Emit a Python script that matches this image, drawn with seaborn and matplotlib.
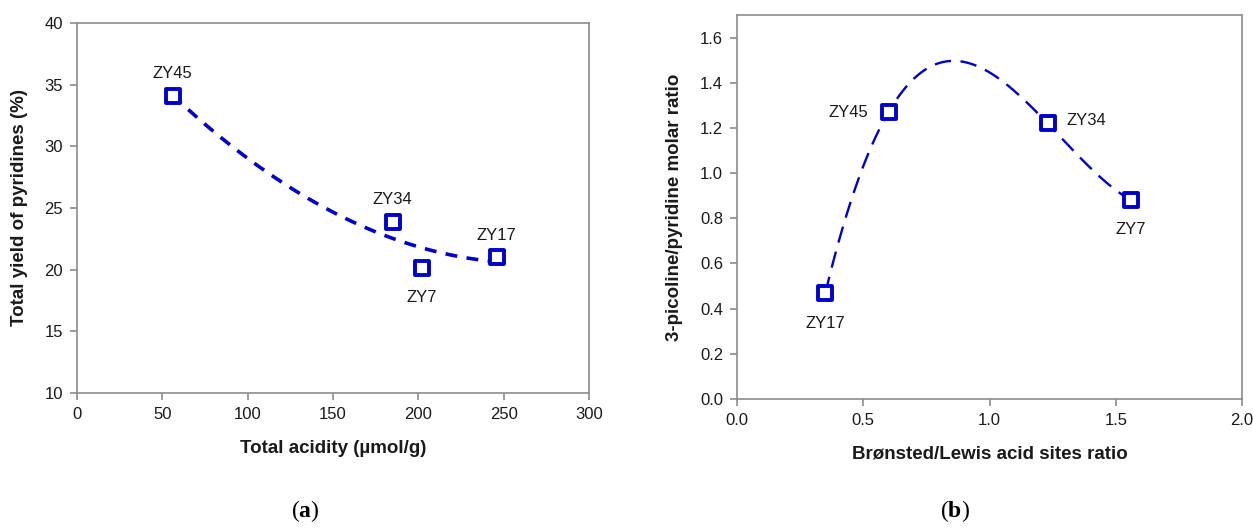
import numpy as np
import pandas as pd
import matplotlib
matplotlib.use("Agg")
import matplotlib.pyplot as plt
import seaborn as sns

# Panel (a): total acidity vs total yield of pyridines
samples_a = ["ZY45", "ZY34", "ZY7", "ZY17"]
acidity = [56, 185, 202, 246]
yield_pyr = [34.1, 23.9, 20.1, 21.0]

# Panel (b): Brønsted/Lewis ratio vs 3-picoline/pyridine ratio
samples_b = ["ZY17", "ZY45", "ZY34", "ZY7"]
bl_ratio = [0.35, 0.60, 1.23, 1.56]
pic_ratio = [0.47, 1.27, 1.22, 0.88]

sns.set_theme(style="white")
plt.rcParams["font.family"] = ["Liberation Sans", "DejaVu Sans"]
plt.rcParams["mathtext.fontset"] = "custom"
plt.rcParams["mathtext.bf"] = "Liberation Serif:bold"
plt.rcParams["mathtext.rm"] = "Liberation Serif"

BLUE = "#0000CC"
GREY = "#8c8c8c"
TXT = "#1a1a1a"

fig = plt.figure(figsize=(12.53, 5.29), dpi=100)
ax1 = fig.add_axes([77 / 1253, 1 - 393 / 529, (589 - 77) / 1253, (393 - 23) / 529])
ax2 = fig.add_axes([737 / 1253, 1 - 399 / 529, (1242 - 737) / 1253, (399 - 15) / 529])


def style_axes(ax):
    for s in ax.spines.values():
        s.set_color(GREY)
        s.set_linewidth(1.2)
    ax.tick_params(axis="both", which="major", direction="out", length=5,
                   width=1.2, color=GREY, labelsize=12, labelcolor=TXT,
                   bottom=True, left=True, pad=5)


# ----- panel (a) -----
df_a = pd.DataFrame({"x": acidity, "y": yield_pyr, "s": samples_a})
coef_a = np.polyfit(acidity, yield_pyr, 2)
xs_a = np.linspace(min(acidity), max(acidity), 200)
fit_a = pd.DataFrame({"x": xs_a, "y": np.polyval(coef_a, xs_a)})
sns.lineplot(data=fit_a, x="x", y="y", ax=ax1, color=BLUE, lw=2.6,
             linestyle=(0, (3.3, 2.6)), legend=False)
sns.scatterplot(data=df_a, x="x", y="y", ax=ax1, marker="s", s=110,
                facecolor="white", edgecolor=BLUE, linewidth=2.8, zorder=5,
                legend=False)
offs_a = {"ZY45": (0, 16), "ZY34": (0, 16), "ZY7": (0, -21), "ZY17": (0, 16)}
for s, x, y in zip(samples_a, acidity, yield_pyr):
    dx, dy = offs_a[s]
    ax1.annotate(s, (x, y), xytext=(dx, dy), textcoords="offset points",
                 ha="center", va="center", fontsize=12, color=TXT)
ax1.set_xlim(0, 300)
ax1.set_ylim(10, 40)
ax1.set_xticks([0, 50, 100, 150, 200, 250, 300])
ax1.set_yticks([10, 15, 20, 25, 30, 35, 40])
ax1.set_xlabel("Total acidity (µmol/g)", fontsize=13.5, fontweight="bold",
               labelpad=13, color=TXT)
ax1.set_ylabel("Total yield of pyridines (%)", fontsize=13.5,
               fontweight="bold", labelpad=12, color=TXT)
style_axes(ax1)

# ----- panel (b) -----
df_b = pd.DataFrame({"x": bl_ratio, "y": pic_ratio, "s": samples_b})
coef_b = np.polyfit(bl_ratio, pic_ratio, 3)
xs_b = np.linspace(min(bl_ratio), max(bl_ratio), 300)
fit_b = pd.DataFrame({"x": xs_b, "y": np.polyval(coef_b, xs_b)})
sns.lineplot(data=fit_b, x="x", y="y", ax=ax2, color=BLUE, lw=1.7,
             linestyle=(0, (7, 4)), legend=False)
sns.scatterplot(data=df_b, x="x", y="y", ax=ax2, marker="s", s=110,
                facecolor="white", edgecolor=BLUE, linewidth=2.8, zorder=5,
                legend=False)
offs_b = {"ZY17": (0, -22), "ZY45": (-29, 0), "ZY34": (28, 2), "ZY7": (0, -21)}
for s, x, y in zip(samples_b, bl_ratio, pic_ratio):
    dx, dy = offs_b[s]
    ax2.annotate(s, (x, y), xytext=(dx, dy), textcoords="offset points",
                 ha="center", va="center", fontsize=12, color=TXT)
ax2.set_xlim(0, 2.0)
ax2.set_ylim(0, 1.7)
ax2.set_xticks(np.arange(0, 2.01, 0.5))
ax2.set_xticklabels([f"{v:.1f}" for v in np.arange(0, 2.01, 0.5)])
ax2.set_yticks(np.arange(0, 1.61, 0.2))
ax2.set_yticklabels([f"{v:.1f}" for v in np.arange(0, 1.61, 0.2)])
ax2.set_xlabel("Brønsted/Lewis acid sites ratio", fontsize=13.5,
               fontweight="bold", labelpad=13, color=TXT)
ax2.set_ylabel("3-picoline/pyridine molar ratio", fontsize=13.5,
               fontweight="bold", labelpad=12, color=TXT)
style_axes(ax2)

# panel captions: plain parentheses, bold letter
for xc, letter in [(305, "a"), (955, "b")]:
    fig.text(xc / 1253, 1 - 511 / 529, f"($\\mathbf{{{letter}}}$)",
             ha="center", va="center", fontsize=17,
             family="Liberation Serif", color="black")

fig.savefig("out.png", dpi=100, facecolor="white")
